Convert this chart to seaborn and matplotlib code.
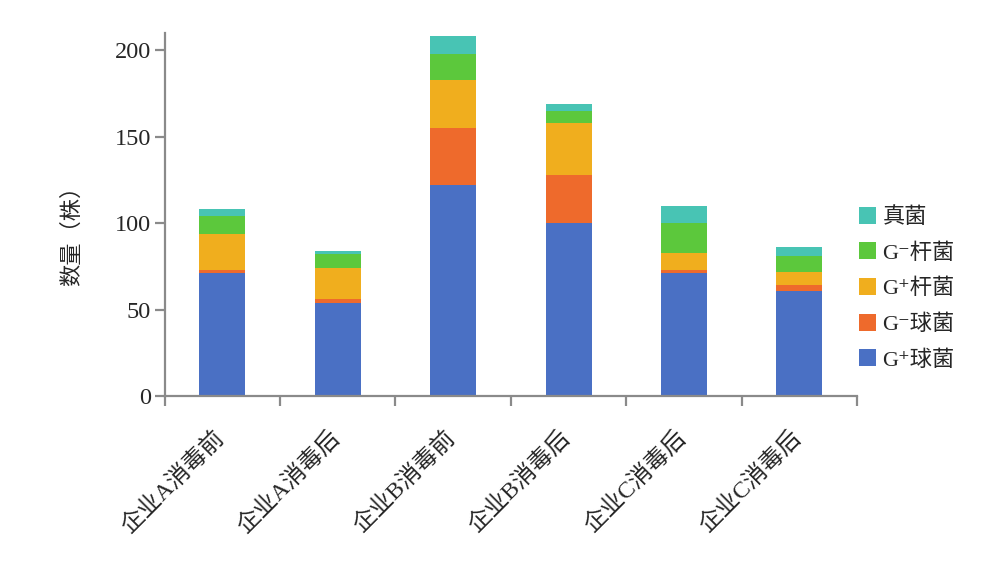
import numpy as np
import pandas as pd
import matplotlib
matplotlib.use("Agg")
import matplotlib.pyplot as plt
import seaborn as sns
from matplotlib.patches import Patch
from matplotlib.ticker import FixedLocator

categories = ["企业A消毒前", "企业A消毒后", "企业B消毒前", "企业B消毒后", "企业C消毒后", "企业C消毒后 "]
series_names = ["G⁺球菌", "G⁻球菌", "G⁺杆菌", "G⁻杆菌", "真菌"]
gpos_cocci = [71, 54, 122, 100, 71, 61]
gneg_cocci = [2, 2, 33, 28, 2, 3]
gpos_rods = [21, 18, 28, 30, 10, 8]
gneg_rods = [10, 8, 15, 7, 17, 9]
fungi = [4, 2, 10, 4, 10, 5]
colors = ["#4a70c4", "#ee6a2c", "#f0ae1e", "#5cc83c", "#48c4b4"]

sns.set_style("white")
plt.rcParams["font.family"] = ["Liberation Serif", "Noto Sans CJK SC", "DejaVu Sans"]

values = [gpos_cocci, gneg_cocci, gpos_rods, gneg_rods, fungi]
cum = np.cumsum(np.array(values), axis=0)

fig = plt.figure(figsize=(9.92, 5.66), dpi=100)
ax = fig.add_axes([0.166, 0.300, 0.698, 0.642])

# draw back-to-front cumulative bars for stacking
for i in range(len(values) - 1, -1, -1):
    df = pd.DataFrame({"cat": categories, "val": cum[i]})
    sns.barplot(data=df, x="cat", y="val", color=colors[i], width=0.4,
                saturation=1, ax=ax, linewidth=0, edgecolor="none")

ax.set_ylim(0, 210)
ax.set_xlim(-0.5, len(categories) - 0.5)
ax.set_yticks([0, 50, 100, 150, 200])
ax.set_xlabel("")
ax.set_ylabel("数量（株）", fontsize=16)
ax.yaxis.set_label_coords(-0.118, 0.457)

spine_col = "#8a8a8a"
for s in ["top", "right"]:
    ax.spines[s].set_visible(False)
for s in ["left", "bottom"]:
    ax.spines[s].set_color(spine_col)
    ax.spines[s].set_linewidth(1.6)

ax.tick_params(axis="y", which="major", direction="out", length=7, width=1.6,
               color=spine_col, labelsize=17.5, left=True, pad=3)
ax.tick_params(axis="x", which="major", length=0, labelsize=17, pad=22)
ax.xaxis.set_minor_locator(FixedLocator(np.arange(-0.5, len(categories), 1.0)))
ax.tick_params(axis="x", which="minor", direction="out", length=7, width=1.6,
               color=spine_col, bottom=True)

ax.set_xticks(range(len(categories)))
ax.set_xticklabels([c.strip() for c in categories], rotation=45, ha="right",
                   rotation_mode="anchor", fontsize=17)
offset = matplotlib.transforms.ScaledTranslation(-0.09, 0, fig.dpi_scale_trans)
for lbl in ax.get_xticklabels():
    lbl.set_transform(lbl.get_transform() + offset)

handles = [Patch(facecolor=colors[i], edgecolor="none") for i in range(len(values) - 1, -1, -1)]
labels = [series_names[i] for i in range(len(values) - 1, -1, -1)]
fig.legend(handles, labels, loc="center left", bbox_to_anchor=(0.846, 0.49),
           frameon=False, fontsize=16, handlelength=0.75, handleheight=0.8,
           handletextpad=0.3, labelspacing=0.65)

fig.savefig("out.png", dpi=100)
